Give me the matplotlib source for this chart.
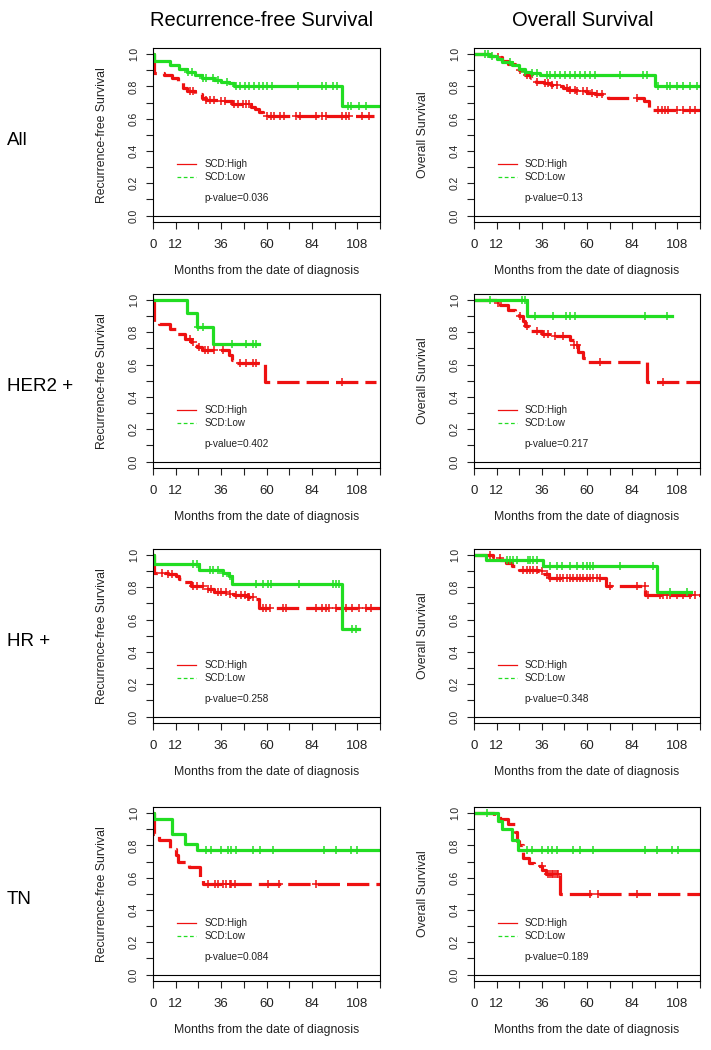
import numpy as np
import matplotlib.pyplot as plt

plt.rcParams['font.family'] = ['Liberation Sans', 'DejaVu Sans']

# labels
col_titles = ['Recurrence-free Survival', 'Overall Survival']
row_labels = ['All', 'HER2 +', 'HR +', 'TN']
y_labels = ['Recurrence-free Survival', 'Overall Survival']
x_label = 'Months from the date of diagnosis'
legend_labels = ['SCD:High', 'SCD:Low']
p_values = [['0.036', '0.13'], ['0.402', '0.217'], ['0.258', '0.348'], ['0.084', '0.189']]

x_ticks = [0, 12, 24, 36, 48, 60, 72, 84, 96, 108, 120]
x_tick_labels = ['0', '12', '', '36', '', '60', '', '84', '', '108', '']
y_ticks = [0.0, 0.1, 0.2, 0.3, 0.4, 0.5, 0.6, 0.7, 0.8, 0.9, 1.0]
y_tick_labels = ['0.0', '', '0.2', '', '0.4', '', '0.6', '', '0.8', '', '1.0']

# ---- All ----
rfs_all_high_t = [0, 0.5, 6, 10, 13, 16, 18, 22, 26, 28, 35, 42, 52, 54, 56, 58, 117]
rfs_all_high_s = [1.0, 0.88, 0.87, 0.85, 0.83, 0.79, 0.77, 0.75, 0.73, 0.715, 0.71, 0.69, 0.675, 0.66, 0.64, 0.615, 0.615]
rfs_all_high_c = [19.5, 21, 28, 30, 32.5, 36, 38, 43, 45, 47.5, 49, 51, 60.5, 62.5, 64, 67, 69.5,
                  75.5, 77.5, 86, 89.5, 91.5, 100, 102, 103.5, 110.5, 114]
rfs_all_low_t = [0, 0.5, 9, 14, 18, 22, 26, 32, 36, 40, 43, 100, 120]
rfs_all_low_s = [1.0, 0.96, 0.93, 0.91, 0.89, 0.87, 0.85, 0.84, 0.83, 0.82, 0.80, 0.68, 0.68]
rfs_all_low_c = [18.5, 20.5, 26.5, 28, 31.5, 34.5, 39, 44, 46, 48.5, 51, 53.5, 56, 58, 60, 63, 76.5,
                 89.5, 91.5, 95, 97.5, 103, 104.5, 109, 112.5]

os_all_high_t = [0, 8.5, 12, 15, 18, 22, 24, 27, 30, 33, 37, 41, 44, 47, 50, 54, 60, 64, 71, 90, 93, 120]
os_all_high_s = [1.0, 0.99, 0.98, 0.96, 0.94, 0.92, 0.90, 0.87, 0.85, 0.83, 0.82, 0.81, 0.80, 0.79,
                 0.78, 0.77, 0.76, 0.755, 0.73, 0.71, 0.655, 0.655]
os_all_high_c = [12.9, 24.4, 28, 29.7, 33.3, 37.7, 39.5, 41.2, 43.9, 49.2, 51, 53.6, 54.5, 58.1, 59.8,
                 62.5, 65.1, 67.8, 86.4, 97.9, 99.6, 101.4, 103.2, 107.6, 111.2, 114.7, 117.4]
os_all_low_t = [0, 8, 12, 15, 20, 24, 27, 30, 35, 96, 120]
os_all_low_s = [1.0, 0.99, 0.97, 0.95, 0.93, 0.91, 0.89, 0.88, 0.87, 0.80, 0.80]
os_all_low_c = [5.8, 7.6, 9.4, 19.1, 27, 30.6, 33.3, 38.6, 40.4, 43, 45.7, 48.3, 51, 53.6, 56.3, 58.9,
                61.6, 64.3, 77.5, 89.9, 91.7, 97.9, 102.3, 104.1, 107.6, 111.2, 114.7, 118.3]

# ---- HER2 + ----
rfs_her2_high_t = [0, 0.5, 3, 9, 12, 17, 20, 23, 26, 40, 42, 44, 59, 118]
rfs_her2_high_s = [1.0, 0.86, 0.85, 0.82, 0.79, 0.76, 0.74, 0.71, 0.69, 0.66, 0.63, 0.61, 0.49, 0.49]
rfs_her2_high_c = [19.5, 21, 24.5, 27.5, 29, 32.5, 37, 46, 49, 53, 54.5, 100]
rfs_her2_low_t = [0, 18, 23, 31.5, 56]
rfs_her2_low_s = [1.0, 0.92, 0.835, 0.73, 0.73]
rfs_her2_low_c = [24, 26.5, 42, 49, 53, 54.5]

os_her2_high_t = [0, 12, 14, 18, 22, 24, 26, 27, 30, 36, 40, 51, 53, 55, 58, 60, 92, 120]
os_her2_high_s = [1.0, 0.98, 0.97, 0.94, 0.92, 0.90, 0.87, 0.84, 0.81, 0.79, 0.78, 0.75, 0.72,
                  0.68, 0.64, 0.615, 0.495, 0.495]
os_her2_high_c = [13, 24.5, 28, 33.5, 37, 39.5, 43, 47.5, 53, 54.5, 67, 100.5]
os_her2_low_t = [0, 28, 105]
os_her2_low_s = [1.0, 0.90, 0.90]
os_her2_low_c = [8.5, 25.5, 27, 32.5, 42, 49, 51, 53.5, 91, 102.5]

# ---- HR + ----
rfs_hr_high_t = [0, 0.5, 8, 12, 14, 16, 20, 27, 32, 40, 43, 50, 53, 56, 120]
rfs_hr_high_s = [1.0, 0.89, 0.88, 0.87, 0.85, 0.83, 0.81, 0.79, 0.77, 0.76, 0.75, 0.74, 0.73, 0.67, 0.67]
rfs_hr_high_c = [4.6, 8.1, 9.8, 21.2, 23, 26.5, 29.1, 30.9, 34.4, 36.1, 38.8, 40.5, 44, 46.7, 48.4,
                 50.2, 51, 52.8, 58.1, 59.8, 61.6, 68.6, 70.4, 86.1, 89.6, 91.4, 93.2, 96.7, 100.2,
                 101.9, 105.4, 108.9, 112.5, 115.1]
rfs_hr_low_t = [0, 0.5, 24.5, 37, 40, 42, 100, 109]
rfs_hr_low_s = [1.0, 0.945, 0.91, 0.89, 0.87, 0.82, 0.54, 0.54]
rfs_hr_low_c = [21.2, 23, 30, 31.7, 34.4, 37, 40.5, 54.5, 58.1, 60.7, 62.5, 77.4, 94.9, 96.7, 98.4,
                105.4, 107.2]

os_hr_high_t = [0, 10, 12, 14, 17, 20, 24, 34, 36, 40, 70, 91, 120]
os_hr_high_s = [1.0, 0.99, 0.98, 0.97, 0.95, 0.93, 0.91, 0.90, 0.88, 0.86, 0.81, 0.755, 0.755]
os_hr_high_c = [8.5, 13.8, 26.2, 28, 29.7, 31.5, 33.3, 35.9, 38.6, 40.4, 43.9, 45.7, 47.4, 49.2, 51,
                52.7, 54.5, 56.3, 58.1, 59.8, 61.6, 63.4, 65.1, 66.9, 72.2, 86.4, 90.8, 92.6, 98.8,
                100.6, 102.3, 104.1, 107.6, 111.2, 114.7, 117.4]
os_hr_low_t = [0, 6.5, 36.5, 97, 115]
os_hr_low_s = [1.0, 0.97, 0.93, 0.77, 0.77]
os_hr_low_c = [17.4, 19.1, 20.9, 22.7, 28.9, 29.7, 31.5, 33.3, 40.4, 43.9, 46.5, 51, 54.5, 58.1, 59.8,
               61.6, 63.4, 77.5, 95.2, 104.1, 113]

# ---- TN ----
rfs_tn_high_t = [0, 0.5, 3, 9, 12, 13, 19, 25, 26.5, 120]
rfs_tn_high_s = [1.0, 0.87, 0.835, 0.775, 0.74, 0.70, 0.665, 0.595, 0.56, 0.56]
rfs_tn_high_c = [29.1, 32.6, 34.4, 37, 38.8, 40.5, 41.4, 43.2, 60.7, 66.8, 86.1]
rfs_tn_low_t = [0, 0.5, 10, 17, 23, 120]
rfs_tn_low_s = [1.0, 0.965, 0.87, 0.81, 0.77, 0.77]
rfs_tn_low_c = [28.2, 30.9, 36.1, 39.6, 41.4, 44, 52.8, 56.3, 63.3, 90.5, 96.7, 104.6, 108.1]

os_tn_high_t = [0, 10.5, 14, 18, 22, 23, 24, 26, 29, 32, 36, 38, 45.5, 120]
os_tn_high_s = [1.0, 0.98, 0.965, 0.93, 0.88, 0.83, 0.80, 0.72, 0.69, 0.67, 0.645, 0.625, 0.50, 0.50]
os_tn_high_c = [35.9, 39.5, 40.4, 41.2, 42.1, 43, 43.9, 44.8, 61.6, 66, 86.4]
os_tn_low_t = [0, 12.5, 15, 20, 23.5, 120]
os_tn_low_s = [1.0, 0.95, 0.90, 0.835, 0.77, 0.77]
os_tn_low_c = [6.7, 28, 30.6, 35.9, 39.5, 41.2, 43.9, 52.7, 56.3, 63.4, 90.8, 97, 105, 108.5]

panels = [
    [(rfs_all_high_t, rfs_all_high_s, rfs_all_high_c, rfs_all_low_t, rfs_all_low_s, rfs_all_low_c),
     (os_all_high_t, os_all_high_s, os_all_high_c, os_all_low_t, os_all_low_s, os_all_low_c)],
    [(rfs_her2_high_t, rfs_her2_high_s, rfs_her2_high_c, rfs_her2_low_t, rfs_her2_low_s, rfs_her2_low_c),
     (os_her2_high_t, os_her2_high_s, os_her2_high_c, os_her2_low_t, os_her2_low_s, os_her2_low_c)],
    [(rfs_hr_high_t, rfs_hr_high_s, rfs_hr_high_c, rfs_hr_low_t, rfs_hr_low_s, rfs_hr_low_c),
     (os_hr_high_t, os_hr_high_s, os_hr_high_c, os_hr_low_t, os_hr_low_s, os_hr_low_c)],
    [(rfs_tn_high_t, rfs_tn_high_s, rfs_tn_high_c, rfs_tn_low_t, rfs_tn_low_s, rfs_tn_low_c),
     (os_tn_high_t, os_tn_high_s, os_tn_high_c, os_tn_low_t, os_tn_low_s, os_tn_low_c)],
]

RED = '#ee1111'
GREEN = '#22dd22'
W, H = 711, 1050


def km_curve(ax, t, s, cens, color, dashed):
    line, = ax.step(t, s, where='post', color=color, lw=2.3)
    if dashed:
        line.set_dashes((7, 2.2))
    # censor marks sit on the step curve
    idx = np.searchsorted(t, cens, side='right') - 1
    ax.plot(cens, np.array(s)[idx], '+', color=color, ms=6, mew=1.1)


fig = plt.figure(figsize=(W / 100, H / 100), dpi=100)

col_x = [153, 474]
col_w = [227, 226]
row_top = [47.6, 293.5, 548.5, 806.6]
row_h = 174.5

for r in range(4):
    for c in range(2):
        ax = fig.add_axes([col_x[c] / W, 1 - (row_top[r] + row_h) / H, col_w[c] / W, row_h / H])
        ht, hs, hc, lt, ls, lc = panels[r][c]
        km_curve(ax, ht, hs, hc, RED, True)
        km_curve(ax, lt, ls, lc, GREEN, False)
        ax.axhline(0, color='black', lw=0.8)

        ax.set_xlim(0, 120)
        ax.set_ylim(-0.04, 1.04)
        ax.set_xticks(x_ticks)
        ax.set_xticklabels(x_tick_labels)
        ax.set_yticks(y_ticks)
        ax.set_yticklabels(y_tick_labels)
        ax.tick_params(axis='x', length=5, width=0.8, labelsize=9.5, pad=7, colors='#222222')
        ax.tick_params(axis='y', length=5, width=0.8, labelsize=7.4, pad=5, labelrotation=90,
                       colors='#222222')
        for lbl in ax.get_yticklabels():
            lbl.set_va('center')
        for sp in ax.spines.values():
            sp.set_linewidth(0.8)

        ax.set_xlabel(x_label, fontsize=8.8, color='#222222')
        ax.xaxis.set_label_coords(0.5, -0.245)
        ax.set_ylabel(y_labels[c], fontsize=8.8, color='#222222')
        ax.yaxis.set_label_coords(-0.2, 0.5)

        # legend (thin keys: High solid, Low dashed)
        ax.plot([0.105, 0.19], [0.333, 0.333], transform=ax.transAxes, color=RED, lw=0.9)
        ax.plot([0.105, 0.19], [0.259, 0.259], transform=ax.transAxes, color=GREEN, lw=0.9,
                dashes=(3, 2))
        ax.text(0.225, 0.333, legend_labels[0], transform=ax.transAxes, fontsize=7,
                va='center', color='#222222')
        ax.text(0.225, 0.259, legend_labels[1], transform=ax.transAxes, fontsize=7,
                va='center', color='#222222')
        ax.text(0.225, 0.139, 'p-value=' + p_values[r][c], transform=ax.transAxes, fontsize=7.3,
                va='center', color='#222222')

    yc = row_top[r] + row_h / 2 + 6
    fig.text(7 / W, 1 - yc / H, row_labels[r], fontsize=13.5, va='center', ha='left')

fig.text(262 / W, 1 - 21 / H, col_titles[0], fontsize=14.5, ha='center', va='center')
fig.text(583 / W, 1 - 21 / H, col_titles[1], fontsize=14.5, ha='center', va='center')

fig.savefig('out.png', dpi=100)
